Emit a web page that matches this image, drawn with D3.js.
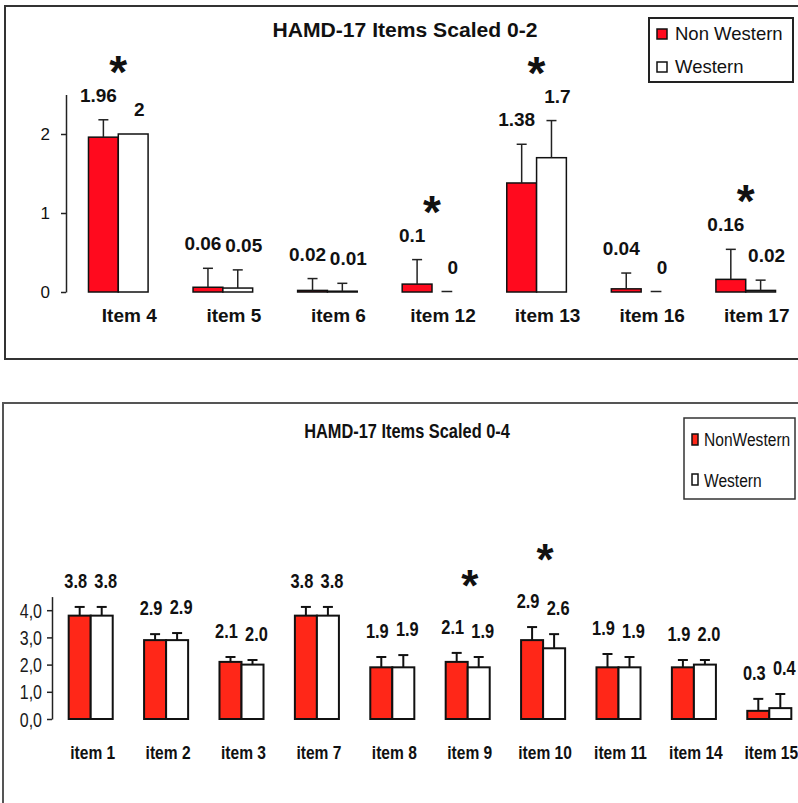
<!DOCTYPE html>
<html>
<head>
<meta charset="utf-8">
<script src="https://cdn.jsdelivr.net/npm/d3@7"></script>
<style>
  html, body { margin: 0; padding: 0; background: #fff; }
  svg { display: block; }
</style>
</head>
<body>
<svg id="chart" width="798" height="803"></svg>
<script>
// ---------- Top panel data (scaled 0-2) ----------
const itemsTop = ["Item 4", "item 5", "item 6", "item 12", "item 13", "item 16", "item 17"];
const nonWesternTop = [1.96, 0.06, 0.02, 0.1, 1.38, 0.04, 0.16];
const westernTop = [2, 0.05, 0.01, 0, 1.7, 0, 0.02];
const nonWesternErrTop = [0.22, 0.24, 0.15, 0.31, 0.49, 0.20, 0.38];
const westernErrTop = [0, 0.23, 0.10, 0, 0.47, 0, 0.13];
const significantTop = [true, false, false, true, true, false, true];
const ticksTop = [0, 1, 2];
const legendTop = ["Non Western", "Western"];
const titleTop = "HAMD-17 Items Scaled 0-2";

// ---------- Bottom panel data (scaled 0-4) ----------
const itemsBottom = ["item 1", "item 2", "item 3", "item 7", "item 8", "item 9", "item 10", "item 11", "item 14", "item 15"];
const nonWesternBottom = [3.8, 2.9, 2.1, 3.8, 1.9, 2.1, 2.9, 1.9, 1.9, 0.3];
const westernBottom = [3.8, 2.9, 2.0, 3.8, 1.9, 1.9, 2.6, 1.9, 2.0, 0.4];
const nonWesternErrBottom = [0.32, 0.22, 0.18, 0.32, 0.38, 0.33, 0.48, 0.49, 0.27, 0.44];
const westernErrBottom = [0.32, 0.26, 0.17, 0.32, 0.45, 0.38, 0.52, 0.38, 0.17, 0.52];
const significantBottom = [false, false, false, false, false, true, true, false, false, false];
const ticksBottom = [0, 1, 2, 3, 4];
const legendBottom = ["NonWestern", "Western"];
const titleBottom = "HAMD-17 Items Scaled 0-4";

const svg = d3.select("#chart");
const SANS = "'Liberation Sans', Arial, sans-serif";
const SQUEEZE = 0.82; // emulate a narrow face

function narrowText(parent, x, y, txt, opts) {
  return parent.append("text")
    .attr("transform", `translate(${x},${y}) scale(${SQUEEZE},1)`)
    .attr("text-anchor", opts.anchor || "middle")
    .attr("font-family", SANS)
    .attr("font-weight", opts.weight || "normal")
    .attr("font-size", opts.size)
    .attr("fill", "#111")
    .text(txt);
}

// ---------------- TOP PANEL ----------------
(function () {
  const g = svg.append("g");
  const RED = "#ff0a1e";

  g.append("rect").attr("x", 5).attr("y", 6).attr("width", 820).attr("height", 353)
    .attr("fill", "none").attr("stroke", "#333").attr("stroke-width", 2);

  const x = d3.scaleBand().domain(itemsTop).range([66, 798]).paddingInner(0.43).paddingOuter(0.215);
  const y = d3.scaleLinear().domain([0, 2.5]).range([292, 94.5]);
  const bw = x.bandwidth() / 2;

  const data = itemsTop.map((it, i) => ({
    item: it, sig: significantTop[i],
    series: [
      { v: nonWesternTop[i], e: nonWesternErrTop[i], fill: RED, off: 0 },
      { v: westernTop[i], e: westernErrTop[i], fill: "#fff", off: 1 }
    ]
  }));

  const ax = g.append("g").attr("transform", "translate(66,0)")
    .call(d3.axisLeft(y).tickValues(ticksTop).tickSize(5).tickPadding(11).tickSizeOuter(0).tickFormat(d3.format("d")));
  ax.select(".domain").attr("stroke", "#222").attr("stroke-width", 1.5);
  ax.selectAll(".tick line").attr("stroke", "#222").attr("stroke-width", 1.5);
  ax.selectAll(".tick text").attr("font-family", SANS).attr("font-size", 17).attr("fill", "#111");

  const grp = g.selectAll(".grp").data(data).enter().append("g");

  grp.each(function (d) {
    const gg = d3.select(this);
    d.series.forEach(s => {
      const bx = x(d.item) + s.off * bw;
      const cx = bx + bw / 2;
      if (s.v > 0) {
        gg.append("rect").attr("x", bx).attr("y", y(s.v)).attr("width", bw)
          .attr("height", y(0) - y(s.v)).attr("fill", s.fill)
          .attr("stroke", "#111").attr("stroke-width", 1.5);
      } else {
        gg.append("line").attr("x1", cx - bw * 0.18).attr("x2", cx + bw * 0.18)
          .attr("y1", y(0) - 0.5).attr("y2", y(0) - 0.5).attr("stroke", "#222").attr("stroke-width", 1.5);
      }
      if (s.e > 0) {
        gg.append("line").attr("x1", cx).attr("x2", cx).attr("y1", y(s.v)).attr("y2", y(s.v + s.e))
          .attr("stroke", "#222").attr("stroke-width", 1.5);
        gg.append("line").attr("x1", cx - 5).attr("x2", cx + 5).attr("y1", y(s.v + s.e)).attr("y2", y(s.v + s.e))
          .attr("stroke", "#222").attr("stroke-width", 1.5);
      }
      const dx = s.off === 0 ? -5 : 6;
      gg.append("text").attr("x", cx + dx).attr("y", y(s.v + s.e) - 18)
        .attr("text-anchor", "middle").attr("font-family", SANS).attr("font-weight", "bold")
        .attr("font-size", 19).attr("fill", "#111").text(String(s.v));
    });
    gg.append("text").attr("x", x(d.item) + x.bandwidth() / 2 + 11).attr("y", 322)
      .attr("text-anchor", "middle").attr("font-family", SANS).attr("font-weight", "bold")
      .attr("font-size", 19).attr("fill", "#111").text(d.item);
    if (d.sig) {
      const top = d3.max(d.series, s => s.v + s.e);
      gg.append("text").attr("x", x(d.item) + x.bandwidth() / 2).attr("y", y(top) - 32)
        .attr("text-anchor", "middle").attr("font-family", SANS).attr("font-weight", "bold")
        .attr("font-size", 46).attr("fill", "#111").text("*");
    }
  });

  g.append("text").attr("x", 405).attr("y", 37).attr("text-anchor", "middle")
    .attr("font-family", SANS).attr("font-weight", "bold").attr("font-size", 20)
    .attr("textLength", 265).attr("lengthAdjust", "spacingAndGlyphs")
    .attr("fill", "#111").text(titleTop);

  const lg = g.append("g");
  lg.append("rect").attr("x", 649).attr("y", 18).attr("width", 144).attr("height", 64)
    .attr("fill", "#fff").attr("stroke", "#222").attr("stroke-width", 2);
  [RED, "#fff"].forEach((c, i) => {
    lg.append("rect").attr("x", 657).attr("y", 29 + i * 33).attr("width", 10).attr("height", 10)
      .attr("fill", c).attr("stroke", "#111").attr("stroke-width", 1.5);
    lg.append("text").attr("x", 675).attr("y", 40 + i * 33).attr("font-family", SANS)
      .attr("font-size", 18.5).attr("fill", "#111").text(legendTop[i]);
  });
})();

// ---------------- BOTTOM PANEL ----------------
(function () {
  const g = svg.append("g");
  const RED = "#ff2718";

  g.append("rect").attr("x", 3).attr("y", 403).attr("width", 820).attr("height", 420)
    .attr("fill", "none").attr("stroke", "#555").attr("stroke-width", 2);

  const x = d3.scaleBand().domain(itemsBottom).range([53, 807]).paddingInner(0.416).paddingOuter(0.208);
  const y = d3.scaleLinear().domain([0, 4.5]).range([719, 596.6]);
  const bw = x.bandwidth() / 2;

  const data = itemsBottom.map((it, i) => ({
    item: it, sig: significantBottom[i],
    series: [
      { v: nonWesternBottom[i], e: nonWesternErrBottom[i], fill: RED, off: 0 },
      { v: westernBottom[i], e: westernErrBottom[i], fill: "#fff", off: 1 }
    ]
  }));

  const ax = g.append("g").attr("transform", "translate(52,0)")
    .call(d3.axisLeft(y).tickValues(ticksBottom).tickSize(5).tickPadding(0).tickSizeOuter(0)
      .tickFormat(d => d3.format(".1f")(d).replace(".", ",")));
  ax.select(".domain").attr("stroke", "#222").attr("stroke-width", 1.5);
  ax.selectAll(".tick line").attr("stroke", "#222").attr("stroke-width", 1.5);
  ax.selectAll(".tick text")
    .attr("x", null).attr("dy", null)
    .attr("transform", `translate(-10,7) scale(${SQUEEZE},1)`)
    .attr("font-family", SANS).attr("font-size", 19.5).attr("fill", "#1a1a1a");

  const grp = g.selectAll(".grp").data(data).enter().append("g");
  grp.each(function (d) {
    const gg = d3.select(this);
    d.series.forEach(s => {
      const bx = x(d.item) + s.off * bw;
      gg.append("rect").attr("x", bx).attr("y", y(s.v)).attr("width", bw)
        .attr("height", y(0) - y(s.v)).attr("fill", s.fill)
        .attr("stroke", "#111").attr("stroke-width", 2);
      const cx = bx + bw / 2;
      if (s.e > 0) {
        gg.append("line").attr("x1", cx).attr("x2", cx).attr("y1", y(s.v)).attr("y2", y(s.v + s.e))
          .attr("stroke", "#111").attr("stroke-width", 2);
        gg.append("line").attr("x1", cx - 5).attr("x2", cx + 5).attr("y1", y(s.v + s.e)).attr("y2", y(s.v + s.e))
          .attr("stroke", "#111").attr("stroke-width", 2);
      }
      const dx = s.off === 0 ? -4 : 4;
      narrowText(gg, cx + dx, y(s.v + s.e) - 19, d3.format(".1f")(s.v), { size: 20, weight: "bold" });
    });
    narrowText(gg, x(d.item) + x.bandwidth() / 2 + 2, 759, d.item, { size: 19, weight: "bold" });
    if (d.sig) {
      const top = d3.max(d.series, s => s.v + s.e);
      gg.append("text").attr("x", x(d.item) + x.bandwidth() / 2 + 2).attr("y", y(top) - 52)
        .attr("text-anchor", "middle").attr("font-family", SANS).attr("font-weight", "bold")
        .attr("font-size", 44).attr("fill", "#111").text("*");
    }
  });

  narrowText(g, 407, 438, titleBottom, { size: 20, weight: "bold" });

  const lg = g.append("g");
  lg.append("rect").attr("x", 684).attr("y", 418).attr("width", 111).attr("height", 81)
    .attr("fill", "#fff").attr("stroke", "#333").attr("stroke-width", 1.5);
  [RED, "#fff"].forEach((c, i) => {
    lg.append("rect").attr("x", 692).attr("y", 434 + i * 40).attr("width", 6).attr("height", 11)
      .attr("fill", c).attr("stroke", "#111").attr("stroke-width", 1.5);
    narrowText(lg, 704, 446 + i * 41, legendBottom[i], { size: 19, anchor: "start" });
  });
})();
</script>
</body>
</html>
